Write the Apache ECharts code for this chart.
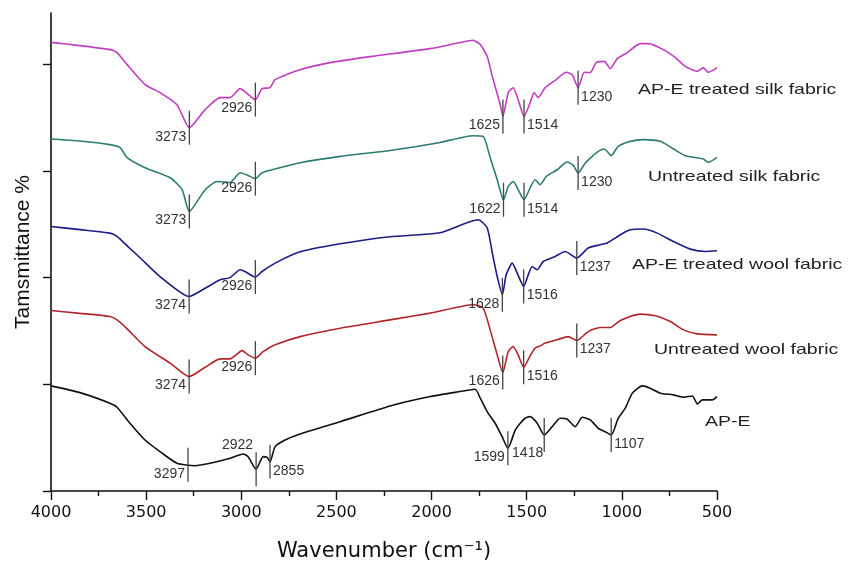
<!DOCTYPE html>
<html lang="en">
<head>
    <meta charset="utf-8"/>
    <title>FTIR spectra</title>
    <script src="https://cdn.jsdelivr.net/npm/echarts@6/dist/echarts.min.js"></script>
</head>
<body style="margin:0;background:#fff">
<div id="echarts" style="width:856px;height:561px;"></div>
<script type="text/javascript">
    // spectra: [wavenumber (cm-1), transmittance offset]
    var silkTreated = [[4000,4.205],[3848,4.174],[3690,4.137],[3653,4.109],[3600,3.996],[3506,3.809],[3427,3.734],[3338,3.621],[3273,3.405],[3190,3.574],[3111,3.687],[3059,3.687],[3006,3.771],[2980,3.743],[2926,3.668],[2891,3.771],[2849,3.780],[2822,3.856],[2691,3.949],[2533,4.015],[2323,4.071],[2007,4.146],[1850,4.203],[1781,4.224],[1744,4.184],[1708,4.074],[1681,3.886],[1639,3.621],[1625,3.511],[1597,3.734],[1571,3.780],[1545,3.668],[1514,3.511],[1482,3.640],[1461,3.734],[1440,3.687],[1403,3.780],[1345,3.856],[1292,3.924],[1261,3.902],[1230,3.780],[1197,3.924],[1166,3.921],[1135,4.015],[1092,4.027],[1061,3.959],[1024,4.053],[972,4.109],[903,4.193],[861,4.193],[782,4.137],[719,4.062],[667,3.980],[603,3.933],[572,3.968],[546,3.924],[500,3.968]];
    var silkUntreated = [[4000,3.299],[3848,3.280],[3690,3.246],[3637,3.218],[3600,3.124],[3506,3.030],[3374,2.936],[3311,2.824],[3273,2.620],[3190,2.824],[3127,2.901],[3059,2.892],[3006,2.983],[2964,2.958],[2926,2.927],[2891,2.983],[2796,3.030],[2691,3.077],[2480,3.136],[2218,3.192],[1955,3.267],[1781,3.330],[1729,3.324],[1692,3.124],[1655,2.917],[1622,2.730],[1597,2.855],[1571,2.901],[1545,2.824],[1514,2.730],[1482,2.842],[1456,2.917],[1429,2.871],[1397,2.948],[1340,3.011],[1287,3.083],[1255,3.052],[1230,2.980],[1192,3.074],[1156,3.136],[1124,3.183],[1092,3.205],[1056,3.143],[1019,3.230],[956,3.277],[887,3.293],[798,3.277],[730,3.208],[667,3.143],[572,3.112],[546,3.080],[500,3.127]];
    var woolTreated = [[4000,2.479],[3848,2.450],[3690,2.417],[3653,2.386],[3600,2.298],[3532,2.186],[3427,2.010],[3274,1.823],[3190,1.900],[3111,1.979],[3059,2.000],[3006,2.073],[2980,2.057],[2926,2.005],[2891,2.057],[2822,2.136],[2691,2.242],[2480,2.317],[2218,2.383],[1955,2.420],[1755,2.542],[1708,2.467],[1681,2.233],[1655,2.010],[1628,1.839],[1608,2.026],[1576,2.136],[1550,2.042],[1516,1.917],[1492,2.026],[1471,2.104],[1445,2.073],[1413,2.151],[1350,2.198],[1298,2.245],[1237,2.183],[1177,2.277],[1114,2.308],[1077,2.324],[1008,2.402],[956,2.448],[887,2.455],[814,2.417],[730,2.339],[640,2.267],[561,2.245],[500,2.251]];
    var woolUntreated = [[4000,1.691],[3848,1.665],[3690,1.635],[3653,1.604],[3600,1.520],[3506,1.354],[3374,1.198],[3274,1.072],[3190,1.160],[3111,1.238],[3059,1.238],[2996,1.316],[2964,1.276],[2926,1.245],[2885,1.307],[2822,1.370],[2691,1.447],[2480,1.526],[2218,1.604],[2007,1.667],[1781,1.745],[1729,1.714],[1692,1.510],[1655,1.276],[1626,1.110],[1597,1.307],[1571,1.354],[1545,1.276],[1516,1.160],[1482,1.266],[1456,1.339],[1429,1.360],[1403,1.386],[1340,1.417],[1282,1.447],[1237,1.410],[1177,1.494],[1114,1.532],[1061,1.532],[1008,1.598],[903,1.658],[824,1.642],[745,1.588],[677,1.510],[603,1.473],[500,1.463]];
    var apE = [[4000,0.985],[3848,0.922],[3690,0.823],[3653,0.785],[3585,0.635],[3506,0.478],[3427,0.369],[3338,0.260],[3243,0.237],[3164,0.260],[3059,0.307],[2990,0.347],[2964,0.322],[2922,0.204],[2885,0.322],[2864,0.316],[2849,0.275],[2822,0.416],[2770,0.478],[2691,0.535],[2480,0.650],[2218,0.797],[2007,0.885],[1850,0.932],[1771,0.954],[1744,0.870],[1708,0.744],[1666,0.635],[1629,0.509],[1599,0.401],[1560,0.572],[1534,0.635],[1508,0.682],[1482,0.697],[1445,0.635],[1408,0.525],[1366,0.603],[1324,0.682],[1287,0.673],[1245,0.603],[1208,0.691],[1166,0.666],[1124,0.588],[1087,0.556],[1056,0.525],[1019,0.682],[982,0.776],[945,0.917],[893,0.985],[851,0.963],[798,0.917],[730,0.901],[677,0.879],[630,0.891],[603,0.816],[577,0.854],[525,0.854],[500,0.885]];

    // marked bands: [drawn position, label text, label side]
    var silkTreatedPeaks = [[3273,'3273','L'],[2926,'2926','L'],[1625,'1625','L'],[1514,'1514','R'],[1230,'1230','R']];
    var silkUntreatedPeaks = [[3273,'3273','L'],[2926,'2926','L'],[1622,'1622','L'],[1514,'1514','R'],[1230,'1230','R']];
    var woolTreatedPeaks = [[3274,'3274','L'],[2926,'2926','L'],[1628,'1628','L'],[1516,'1516','R'],[1237,'1237','R']];
    var woolUntreatedPeaks = [[3274,'3274','L'],[2926,'2926','L'],[1626,'1626','L'],[1516,'1516','R'],[1237,'1237','R']];
    var apePeaks = [[3280,'3297','L'],[2922,'2922','LT'],[2849,'2855','R'],[1599,'1599','L'],[1408,'1418','LB'],[1056,'1107','R']];

    var names = ['AP-E treated silk fabric', 'Untreated silk fabric', 'AP-E treated wool fabric', 'Untreated wool fabric', 'AP-E'];
    var colors = ['#c23cc2', '#2b7c72', '#1b1b86', '#b0262b', '#111111'];
    var xTicks = [4000, 3500, 3000, 2500, 2000, 1500, 1000, 500];

    var spectra = [silkTreated, silkUntreated, woolTreated, woolUntreated, apE];
    var peakSets = [silkTreatedPeaks, silkUntreatedPeaks, woolTreatedPeaks, woolUntreatedPeaks, apePeaks];

    // curve value at a wavenumber (data sorted high -> low)
    function valueAt(data, w) {
        for (var i = 0; i < data.length - 1; i++) {
            var a = data[i], b = data[i + 1];
            if (w <= a[0] && w >= b[0]) {
                return a[1] + (b[1] - a[1]) * (a[0] - w) / (a[0] - b[0]);
            }
        }
        return data[data.length - 1][1];
    }

    var peakData = [], peakMeta = [];
    for (var s = 0; s < peakSets.length; s++) {
        for (var k = 0; k < peakSets[s].length; k++) {
            var p = peakSets[s][k];
            peakData.push([p[0], valueAt(spectra[s], p[0])]);
            peakMeta.push({label: p[1], side: p[2]});
        }
    }

    function renderPeak(params, api) {
        var m = peakMeta[params.dataIndex];
        var c = api.coord([api.value(0), api.value(1)]);
        var x = c[0], y = c[1];
        var tx = x - 3, ty = y + 9, align = 'right';
        if (m.side === 'R') { tx = x + 3; align = 'left'; }
        if (m.side === 'LT') { ty = y - 24; }
        if (m.side === 'LB') { tx = x - 1; ty = y + 18; }
        return {
            type: 'group',
            children: [
                {type: 'line', shape: {x1: x, y1: y - 17, x2: x, y2: y + 17},
                    style: {stroke: '#444', lineWidth: 1.3}},
                {type: 'text', x: tx, y: ty,
                    style: {text: m.label, fill: '#333', font: '14px "Liberation Sans", Arial',
                        textAlign: align, textVerticalAlign: 'middle'}}
            ]
        };
    }

    var series = [];
    for (var i = 0; i < spectra.length; i++) {
        series.push({
            name: names[i],
            type: 'line',
            data: spectra[i],
            showSymbol: false,
            smooth: 0.2,
            lineStyle: {color: colors[i], width: 1.6},
            itemStyle: {color: colors[i]}
        });
    }
    series.push({
        name: 'peaks',
        type: 'custom',
        data: peakData,
        renderItem: renderPeak,
        z: 5
    });

    // series names beside the right ends of the curves
    var namePos = [[638, 90], [648, 177], [632, 265], [654, 350], [705, 422]];
    var graphics = [];
    for (var g = 0; g < names.length; g++) {
        graphics.push({
            type: 'text', x: namePos[g][0], y: namePos[g][1], scaleX: 1.3,
            style: {text: names[g], fill: '#222', font: '15px "Liberation Sans", Arial',
                textAlign: 'left', textVerticalAlign: 'middle'}
        });
    }

    var myChart = echarts.init(document.getElementById('echarts'));
    var option = {
        animation: false,
        backgroundColor: '#fff',
        grid: {left: 51, right: 139, top: 13, bottom: 70, outerBoundsMode: 'none', containLabel: false},
        xAxis: {
            type: 'value',
            inverse: true,
            min: 500,
            max: 4000,
            interval: 500,
            name: 'Wavenumber (cm⁻¹)',
            nameLocation: 'middle',
            nameGap: 50,
            nameTextStyle: {fontFamily: 'DejaVu Sans', fontSize: 21, color: '#111'},
            axisLine: {lineStyle: {color: '#111', width: 1.6}},
            axisTick: {length: 9, lineStyle: {color: '#111', width: 1.4}},
            minorTick: {show: true, splitNumber: 2, length: 5, lineStyle: {color: '#111', width: 1.4}},
            axisLabel: {margin: 14, fontFamily: 'DejaVu Sans', fontSize: 16, color: '#111',
                customValues: xTicks,
                formatter: function (v) { return String(v); }},
            splitLine: {show: false}
        },
        yAxis: {
            type: 'value',
            min: 0,
            max: 4.48,
            interval: 1,
            name: 'Tamsmittance %',
            nameLocation: 'middle',
            nameGap: 17,
            nameTextStyle: {fontFamily: 'Liberation Sans', fontSize: 21, color: '#111'},
            axisLine: {show: true, lineStyle: {color: '#111', width: 1.6}},
            axisTick: {show: true, length: 8, lineStyle: {color: '#111', width: 1.4},
                customValues: [0, 1, 2, 3, 4]},
            axisLabel: {show: false},
            splitLine: {show: false}
        },
        graphic: graphics,
        series: series
    };
    myChart.setOption(option);
</script>
</body>
</html>
